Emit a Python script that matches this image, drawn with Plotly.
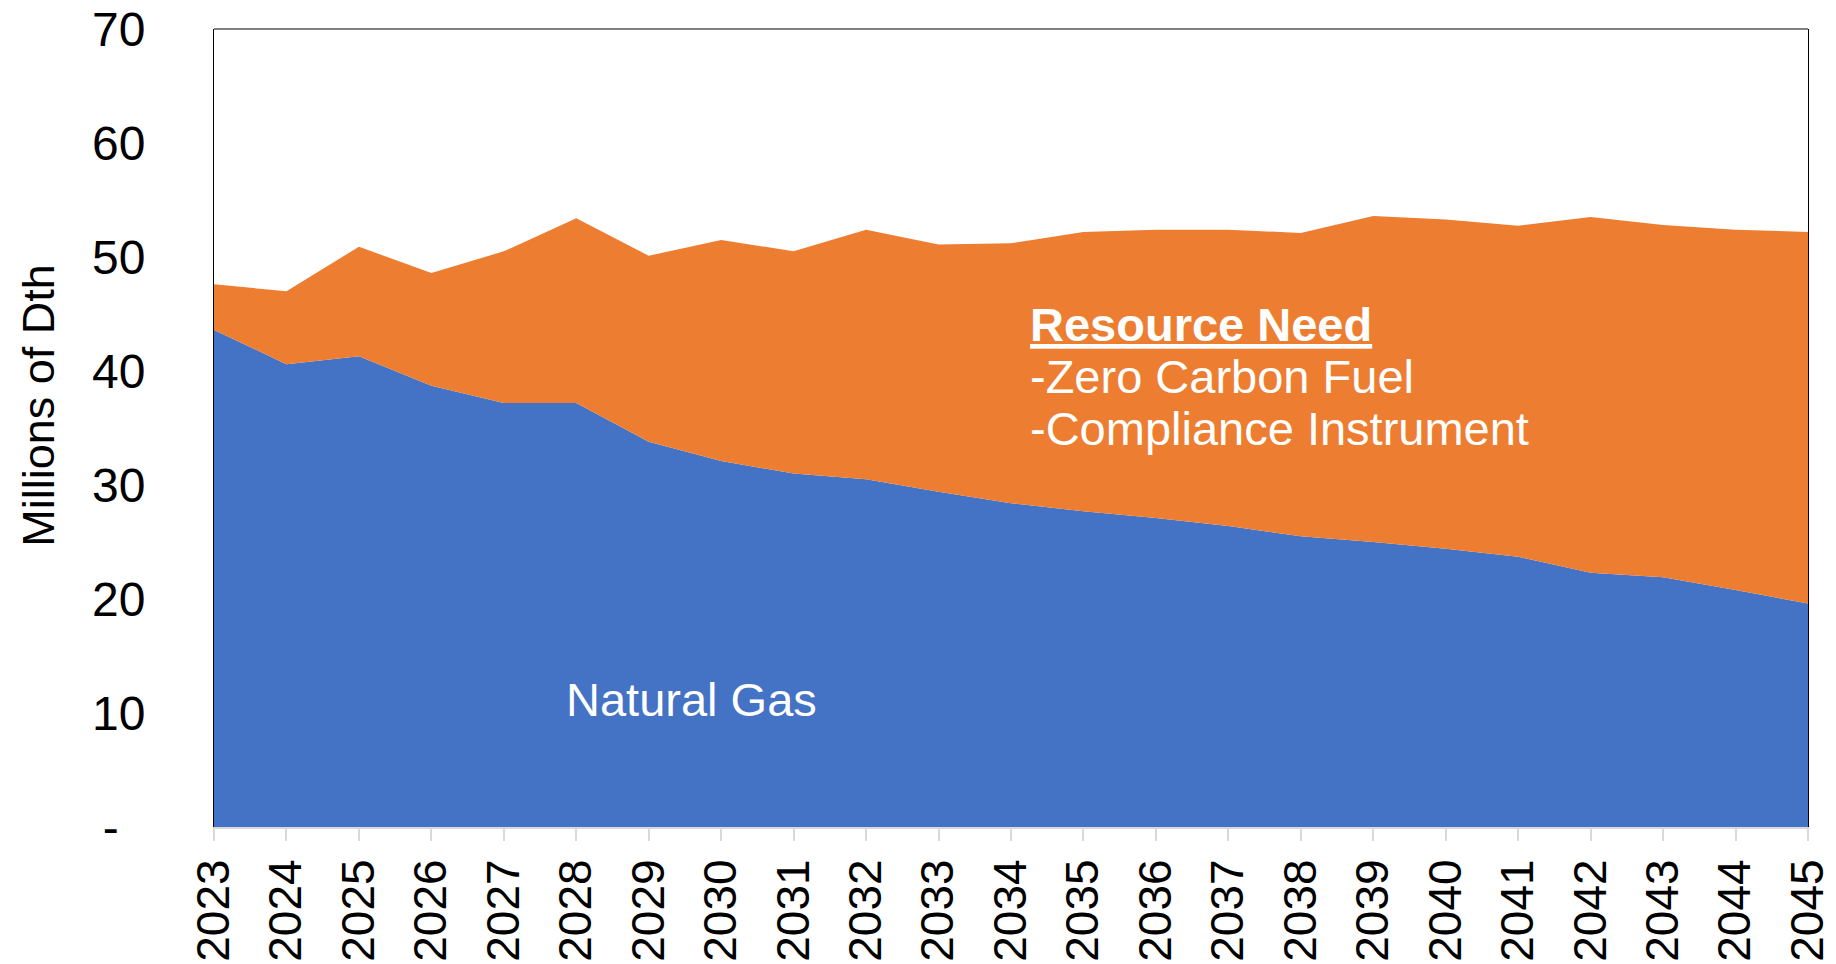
import plotly.graph_objects as go

# data (millions of Dth)
years = list(range(2023, 2046))
natural_gas = [43.6, 40.6, 41.3, 38.7, 37.2, 37.2, 33.8, 32.1, 31.0, 30.5, 29.4, 28.4,
               27.7, 27.1, 26.4, 25.5, 25.0, 24.4, 23.7, 22.3, 21.9, 20.8, 19.6]
total_need = [47.6, 47.0, 50.9, 48.6, 50.5, 53.4, 50.1, 51.5, 50.5, 52.4, 51.1, 51.2,
              52.2, 52.4, 52.4, 52.1, 53.6, 53.3, 52.75, 53.5, 52.8, 52.4, 52.2]
resource_need = [round(t - g, 2) for t, g in zip(total_need, natural_gas)]

y_ticks = [0, 10, 20, 30, 40, 50, 60, 70]
y_ticktext = ["-\u00a0\u00a0", "10", "20", "30", "40", "50", "60", "70"]

FONT = "Arial, Liberation Sans, sans-serif"
BLUE = "#4472C4"
ORANGE = "#ED7D31"

fig = go.Figure()
fig.add_trace(go.Scatter(x=years, y=natural_gas, name="Natural Gas", mode="lines",
                         stackgroup="one", line=dict(width=0, color=BLUE),
                         fillcolor=BLUE))
fig.add_trace(go.Scatter(x=years, y=resource_need, name="Resource Need", mode="lines",
                         stackgroup="one", line=dict(width=0, color=ORANGE),
                         fillcolor=ORANGE))

# page body adds an 8px offset, so the figure is drawn slightly smaller
fig.update_layout(
    width=1828, height=956,
    margin=dict(l=206, r=28, t=21, b=137),
    paper_bgcolor="white", plot_bgcolor="white",
    showlegend=False,
    font=dict(family=FONT, color="black"),
    xaxis=dict(
        range=[2023, 2045], tickvals=years, ticktext=[str(y) for y in years],
        tickangle=-90, tickfont=dict(size=46), automargin=False,
        ticklabeloverflow="allow",
        showgrid=False, zeroline=False,
        showline=True, linecolor="#d9d9d9", linewidth=2,
        ticks="outside", ticklen=12, tickcolor="#d9d9d9", tickwidth=2,
        ticklabelstandoff=0,
    ),
    yaxis=dict(
        range=[0, 70], tickvals=y_ticks, ticktext=y_ticktext,
        tickfont=dict(size=48), automargin=False,
        ticklabeloverflow="allow",
        showgrid=False, zeroline=False,
        showline=True, linecolor="black", linewidth=1, mirror=True,
        ticks="", ticklabelstandoff=58,
    ),
    shapes=[dict(type="line", xref="paper", yref="paper", x0=0, x1=1, y0=1, y1=1,
                 line=dict(color="black", width=1))],
    annotations=[
        dict(text="Millions of Dth", xref="paper", yref="paper", x=-0.1098, y=0.529,
             textangle=-90, showarrow=False, font=dict(size=45),
             xanchor="center", yanchor="middle"),
        dict(text="Natural Gas", xref="paper", yref="paper", x=(564 - 214) / 1594,
             y=(827 - 699) / 798, showarrow=False, font=dict(size=47, color="white"),
             xanchor="left", yanchor="middle"),
        dict(text="<b><u>Resource Need</u></b>", xref="paper", yref="paper",
             x=(1028 - 214) / 1594, y=(827 - 324) / 798, showarrow=False,
             font=dict(size=47, color="white"), xanchor="left", yanchor="middle"),
        dict(text="-Zero Carbon Fuel", xref="paper", yref="paper",
             x=(1028 - 214) / 1594, y=(827 - 376) / 798, showarrow=False,
             font=dict(size=47, color="white"), xanchor="left", yanchor="middle"),
        dict(text="-Compliance Instrument", xref="paper", yref="paper",
             x=(1028 - 214) / 1594, y=(827 - 428) / 798, showarrow=False,
             font=dict(size=47, color="white"), xanchor="left", yanchor="middle"),
    ],
)

fig.write_html("out.html")
